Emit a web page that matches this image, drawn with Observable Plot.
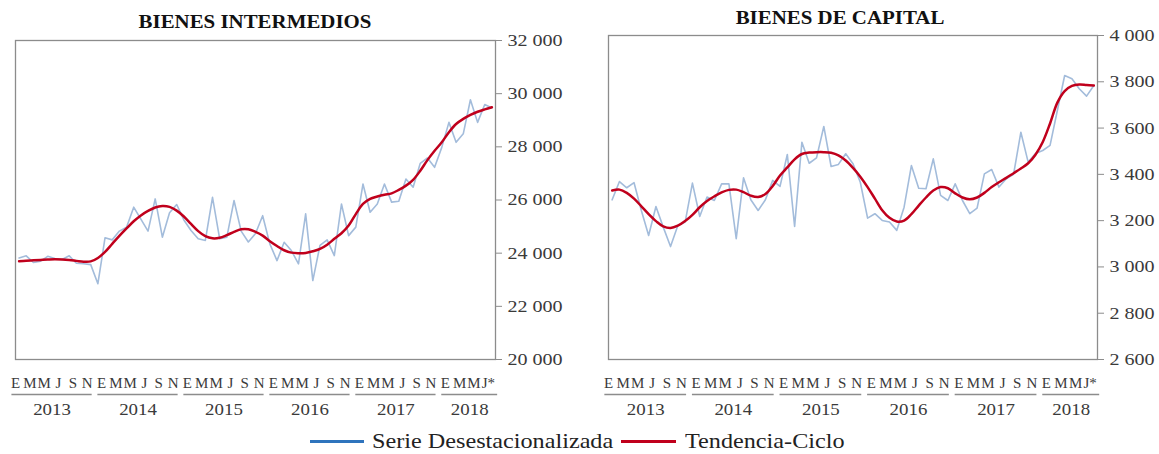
<!DOCTYPE html>
<html>
<head>
<meta charset="utf-8">
<script src="https://cdn.jsdelivr.net/npm/d3@7"></script>
<script src="https://cdn.jsdelivr.net/npm/@observablehq/plot@0.6"></script>
<style>
  body { margin: 0; background: #fff; font-family: 'Liberation Serif', 'Times New Roman', serif; }
  #wrap { position: relative; width: 1159px; height: 454px; overflow: hidden; background: #fff; }
  .panel { position: absolute; top: 0; }
  .title { position: absolute; font-weight: bold; font-size: 19px; line-height: 22px; color: #111; text-align: center; white-space: nowrap; transform: scaleX(1.1); transform-origin: center; }
  .leg { position: absolute; top: 429px; font-size: 22px; line-height: 24px; color: #222; white-space: nowrap; transform: scaleX(1.1); transform-origin: left center; }
  .sw { position: absolute; top: 440px; height: 3px; }
</style>
</head>
<body>
<div id="wrap">
  <div class="panel" id="p1" style="left:0;width:590px"></div>
  <div class="panel" id="p2" style="left:590px;width:569px"></div>
  <div class="title" style="left:0;width:510px;top:11px">BIENES INTERMEDIOS</div>
  <div class="title" style="left:590px;width:500px;top:7px">BIENES DE CAPITAL</div>
  <div class="sw" style="left:310px;width:54px;background:#2f74bd"></div>
  <div class="leg" style="left:372px">Serie Desestacionalizada</div>
  <div class="sw" style="left:621px;width:55px;background:#c0001c"></div>
  <div class="leg" style="left:685px">Tendencia-Ciclo</div>
</div>
<script>
// ---- Data (Jan 2013 – Jul 2018, monthly) ----
const years = [2013, 2014, 2015, 2016, 2017, 2018];
const tickMonths = [0, 2, 4, 6, 8, 10];
const tickLetters = ["E", "M", "M", "J", "S", "N"];
const lastMark = "*";

const intermediosSerie = [
  23820, 23900, 23650, 23700, 23880, 23800, 23760, 23900, 23620, 23600, 23570, 22850,
  24580, 24500, 24830, 24975, 25730, 25280, 24830, 26040, 24600, 25520, 25830, 25250,
  24850, 24540, 24480, 26100, 24540, 24600, 25980, 24830, 24420, 24740, 25410, 24350,
  23720, 24410, 24100, 23600, 25480, 22970, 24290, 24500, 23910, 25850, 24660, 24980,
  26600, 25540, 25850, 26600, 25920, 25950, 26790, 26480, 27380, 27580, 27230, 27980,
  28920, 28170, 28490, 29770, 28920, 29590, 29460
];
const intermediosTendencia = [
  23700, 23715, 23730, 23745, 23760, 23770, 23760, 23740, 23710, 23680, 23690, 23820,
  24050, 24350, 24650, 24930, 25200, 25420, 25590, 25720, 25770, 25740, 25600, 25380,
  25100, 24830, 24640, 24560, 24580, 24680, 24800, 24900, 24900, 24800, 24660, 24450,
  24270, 24110, 24020, 24000, 24010, 24070, 24160, 24320, 24540, 24750, 25040, 25470,
  25850, 26040, 26130, 26200, 26250, 26380, 26540, 26760, 27100, 27500, 27850, 28170,
  28550, 28860, 29050, 29200, 29320, 29410, 29490
];
const capitalSerie = [
  3290, 3369, 3342, 3364, 3244, 3136, 3261, 3172, 3088, 3179, 3194, 3362,
  3218, 3302, 3287, 3359, 3359, 3122, 3385, 3290, 3244, 3290, 3374, 3348,
  3486, 3175, 3539, 3448, 3471, 3607, 3434, 3443, 3489, 3446, 3366, 3211,
  3230, 3201, 3194, 3158, 3258, 3438, 3340, 3338, 3467, 3309, 3287, 3359,
  3287, 3230, 3254, 3402, 3421, 3345, 3381, 3400, 3582, 3453, 3490, 3503,
  3525, 3676, 3827, 3813, 3770, 3738, 3784
];
const capitalTendencia = [
  3330, 3334, 3320, 3295, 3262, 3228, 3198, 3175, 3168, 3178, 3198, 3225,
  3258, 3285, 3305, 3322, 3333, 3334, 3323, 3308, 3302, 3315, 3350, 3395,
  3430, 3465, 3488, 3494, 3496, 3496, 3493, 3482, 3460, 3428, 3390, 3345,
  3295, 3245, 3212, 3196, 3200, 3228, 3265, 3300, 3330, 3345, 3340, 3318,
  3300, 3292, 3300, 3320, 3345, 3366, 3385, 3405, 3425, 3448, 3485, 3540,
  3620, 3710, 3760, 3782, 3788, 3786, 3784
];
const intermediosTicks = [20000, 22000, 24000, 26000, 28000, 30000, 32000];
const capitalTicks = [2600, 2800, 3000, 3200, 3400, 3600, 3800, 4000];

// ---- Build ----
const nMonths = intermediosSerie.length;
const fmt = d => d3.format(",")(d).replace(/,/g, " ");
const font = "'Liberation Serif', 'Times New Roman', serif";

function monthLabels() {
  const out = [];
  years.forEach((yr, k) => {
    const n = Math.min(12, nMonths - 12 * k);
    tickMonths.forEach((m, j) => {
      if (m < n) {
        const idx = 12 * k + m;
        out.push({pos: idx - 0.5, text: idx === nMonths - 1 ? tickLetters[j] + lastMark : tickLetters[j]});
      }
    });
  });
  return out;
}
function yearSpans() {
  return years.map((yr, k) => {
    const x1 = 12 * k - 1.0;
    const x2 = Math.min(12 * k + 10.2, nMonths - 0.2);
    return {year: String(yr), x1, x2, c: (x1 + x2) / 2};
  });
}

// widen numeric texts (ticks, years) to match the reference's wide serif face
function stretch(svg, k) {
  svg.querySelectorAll("text").forEach(t => {
    if (!/\d/.test(t.textContent)) return;
    const tr = t.getAttribute("transform");
    if (tr) {
      t.setAttribute("transform", tr + ` scale(${k},1)`);
    } else {
      const x = +t.getAttribute("x") || 0;
      const y = +t.getAttribute("y") || 0;
      t.setAttribute("x", 0); t.setAttribute("y", 0);
      t.setAttribute("transform", `translate(${x},${y}) scale(${k},1)`);
    }
  });
  return svg;
}

function panel({serie, trend, yDomain, yTicks, width, height, ml, mr, mt, mb}) {
  const rows = serie.map((v, i) => ({i, v}));
  const trows = trend.map((v, i) => ({i, v}));
  const y0 = yDomain[0];
  const svg = Plot.plot({
    width, height,
    marginLeft: ml, marginRight: mr, marginTop: mt, marginBottom: mb,
    x: {domain: [-0.5, nMonths - 0.5], axis: null},
    y: {domain: yDomain, axis: null},
    style: {fontFamily: font, fontSize: "16px", color: "#3a3a3a", background: "#fff"},
    marks: [
      Plot.frame({stroke: "#8c8c8c", strokeWidth: 1.3}),
      Plot.axisY({ticks: yTicks, anchor: "right", label: null, tickSize: 6, tickPadding: 6, tickFormat: fmt,
                  stroke: "#8c8c8c", fontSize: 17}),
      Plot.line(rows, {x: "i", y: "v", stroke: "#a3bcdb", strokeWidth: 1.6}),
      Plot.line(trows, {x: "i", y: "v", stroke: "#c0001c", strokeWidth: 2.5, curve: "catmull-rom"}),
      Plot.text(monthLabels(), {x: "pos", y: () => y0, text: "text", dy: 24, fontSize: 15, fill: "#3a3a3a"}),
      Plot.ruleY(yearSpans(), {y: () => y0, x1: "x1", x2: "x2", dy: 35, stroke: "#8c8c8c", strokeWidth: 1.5}),
      Plot.text(yearSpans(), {x: "c", y: () => y0, text: "year", dy: 50, fontSize: 16, fill: "#3a3a3a"})
    ]
  });
  return stretch(svg, 1.18);
}

document.getElementById("p1").append(panel({
  serie: intermediosSerie, trend: intermediosTendencia,
  yDomain: [20000, 32000], yTicks: intermediosTicks,
  width: 590, height: 425, ml: 15, mr: 95, mt: 40, mb: 66
}));
document.getElementById("p2").append(panel({
  serie: capitalSerie, trend: capitalTendencia,
  yDomain: [2600, 4000], yTicks: capitalTicks,
  width: 569, height: 425, ml: 18, mr: 62, mt: 35, mb: 66
}));
</script>
</body>
</html>
